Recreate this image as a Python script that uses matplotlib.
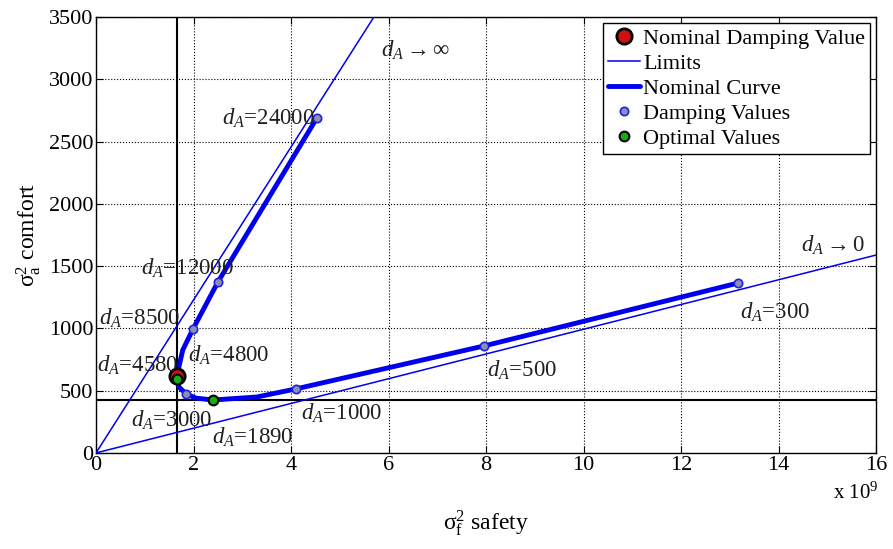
import matplotlib
matplotlib.use('Agg')
import matplotlib.pyplot as plt
import numpy as np

plt.rcParams['font.family'] = ['Liberation Serif', 'DejaVu Serif']
plt.rcParams['mathtext.fontset'] = 'custom'
plt.rcParams['mathtext.rm'] = 'Liberation Serif'
plt.rcParams['mathtext.it'] = 'Liberation Serif:italic'

# damping values (x in 1e9 units)
damping = [24000, 12000, 8500, 3000, 1000, 500, 300]
damp_x = [4.53, 2.50, 1.99, 1.85, 4.10, 7.96, 13.17]
damp_y = [2689, 1372, 995, 473, 514, 859, 1364]

# nominal curve
curve_x = [4.53, 2.50, 1.99, 1.78, 1.70, 1.66, 1.70, 1.85, 2.05, 2.40, 3.30, 4.10, 7.96, 13.17]
curve_y = [2689, 1372, 995, 827, 690, 618, 530, 473, 440, 425, 449, 514, 859, 1364]

nominal_x, nominal_y = 1.66, 618
optimal_x = [1.66, 2.40]
optimal_y = [594, 425]

# limits: slopes of the two asymptote lines
slope_inf = 614.0
slope_zero = 99.3
hline_y = 425
vline_x = 1.66

labels = ['$d_A$=24000', '$d_A$=12000', '$d_A$=8500', '$d_A$=4580', '$d_A$=4800',
          '$d_A$=3000', '$d_A$=1890', '$d_A$=1000', '$d_A$=500', '$d_A$=300',
          r'$d_A$$\rightarrow\infty$', r'$d_A$$\rightarrow$0']
label_x = [3.53, 1.87, 0.90, 0.86, 2.73, 1.56, 3.22, 5.05, 8.74, 13.93, 6.55, 15.12]
label_y = [2690, 1485, 1083, 706, 786, 265, 128, 321, 666, 1131, 3234, 1669]

fig = plt.figure(figsize=(8.93, 5.49), dpi=100)
ax = fig.add_axes([0.1075, 0.175, 0.8735, 0.794])

ax.axvline(vline_x, color='black', lw=1.5, zorder=2)
ax.axhline(hline_y, color='black', lw=1.5, zorder=2)

xs = np.array([0, 16])
ax.plot(xs, slope_inf * xs, color='#0000ee', lw=1.1, zorder=3)
ax.plot(xs, slope_zero * xs, color='#0000ee', lw=1.1, zorder=3, label='Limits')

ax.plot(curve_x, curve_y, color='#0000ee', lw=3.5, solid_capstyle='round', zorder=4,
        label='Nominal Curve')
ax.plot(damp_x, damp_y, 'o', ms=6, mfc='#8e8eb4', mec='#2020e0', mew=1.2, zorder=5,
        label='Damping Values')
ax.plot(nominal_x, nominal_y, 'o', ms=11, mfc='#d01010', mec='black', mew=2, zorder=6,
        label='Nominal Damping Value')
ax.plot(optimal_x, optimal_y, 'o', ms=7, mfc='#10b010', mec='black', mew=1.5, zorder=7,
        label='Optimal Values')

for t, x, y in zip(labels, label_x, label_y):
    ax.text(x, y, t, fontsize=16.5, ha='center', va='center', color='#202020', zorder=8)

ax.set_xlim(0, 16)
ax.set_ylim(0, 3500)
ax.set_xticks(range(0, 17, 2))
ax.set_yticks(range(0, 3501, 500))
ax.grid(True, color='black', linestyle=':', lw=0.8)
ax.tick_params(direction='in', top=True, right=True, labelsize=16, length=5, pad=2)
for s in ax.spines.values():
    s.set_linewidth(1.0)

ax.set_xlabel(r'$\mathregular{\sigma^2_f}$ safety', fontsize=17, labelpad=24)
ax.set_ylabel(r'$\mathregular{\sigma^2_a}$ comfort', fontsize=17, labelpad=4)
ax.text(1.003, -0.092, r'x $\mathregular{10^9}$', transform=ax.transAxes, fontsize=15,
        ha='right', va='center')

h, l = ax.get_legend_handles_labels()
order = ['Nominal Damping Value', 'Limits', 'Nominal Curve', 'Damping Values', 'Optimal Values']
hd = dict(zip(l, h))
leg = ax.legend([hd[k] for k in order], order, loc='upper right', fontsize=16,
                fancybox=False, edgecolor='black', framealpha=1, borderaxespad=0.25,
                handlelength=1.4, handletextpad=0.15, borderpad=0.25, labelspacing=0.2)
leg.get_frame().set_linewidth(1.0)
leg.set_zorder(10)

fig.savefig('out.png', dpi=100)
